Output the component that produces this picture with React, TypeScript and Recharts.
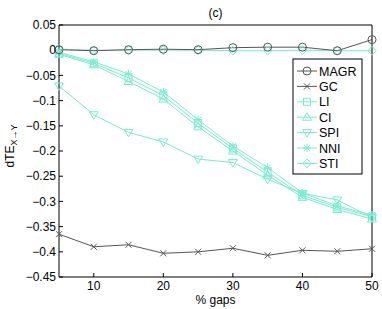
import React from 'react';
import { LineChart, Line, XAxis, YAxis } from 'recharts';

const gaps = [5, 10, 15, 20, 25, 30, 35, 40, 45, 50];
const magr = [0.001, -0.001, 0.001, 0.002, 0.001, 0.005, 0.006, 0.006, -0.001, 0.021];
const gc = [-0.365, -0.39, -0.386, -0.403, -0.4, -0.393, -0.407, -0.397, -0.399, -0.394];
const li = [-0.006, -0.026, -0.055, -0.09, -0.145, -0.195, -0.242, -0.288, -0.312, -0.33];
const ci = [-0.008, -0.029, -0.062, -0.097, -0.152, -0.2, -0.248, -0.292, -0.316, -0.335];
const spi = [-0.071, -0.128, -0.163, -0.182, -0.216, -0.223, -0.256, -0.284, -0.297, -0.332];
const nni = [-0.004, -0.023, -0.047, -0.083, -0.138, -0.19, -0.233, -0.283, -0.309, -0.327];
const sti = [0.002, 0.0, 0.0, 0.0, 0.0, -0.001, -0.001, 0.0, -0.001, -0.001];

const xTicks = [10, 20, 30, 40, 50];
const yTicks = [-0.45, -0.4, -0.35, -0.3, -0.25, -0.2, -0.15, -0.1, -0.05, 0, 0.05];

const data = gaps.map((g, i) => ({
  gap: g,
  MAGR: magr[i],
  GC: gc[i],
  LI: li[i],
  CI: ci[i],
  SPI: spi[i],
  NNI: nni[i],
  STI: sti[i],
}));

const CYAN = '#74efcf';
const DARK = '#555555';
const FONT = '"Liberation Sans", Arial, Helvetica, sans-serif';

type Shape = 'circle' | 'x' | 'square' | 'triUp' | 'triDown' | 'star' | 'diamond';

const series: { key: string; shape: Shape; color: string }[] = [
  { key: 'MAGR', shape: 'circle', color: DARK },
  { key: 'GC', shape: 'x', color: DARK },
  { key: 'LI', shape: 'square', color: CYAN },
  { key: 'CI', shape: 'triUp', color: CYAN },
  { key: 'SPI', shape: 'triDown', color: CYAN },
  { key: 'NNI', shape: 'star', color: CYAN },
  { key: 'STI', shape: 'diamond', color: CYAN },
];

function Marker({ shape, cx, cy, color }: { shape: Shape; cx: number; cy: number; color: string }) {
  const common = { fill: 'none', stroke: color, strokeWidth: 1 };
  switch (shape) {
    case 'circle':
      return <circle cx={cx} cy={cy} r={4} {...common} />;
    case 'x':
      return (
        <g {...common}>
          <line x1={cx - 3} y1={cy - 3} x2={cx + 3} y2={cy + 3} />
          <line x1={cx - 3} y1={cy + 3} x2={cx + 3} y2={cy - 3} />
        </g>
      );
    case 'square':
      return <rect x={cx - 3.5} y={cy - 3.5} width={7} height={7} {...common} />;
    case 'triUp':
      return <polygon points={`${cx},${cy - 4.5} ${cx - 4.5},${cy + 3} ${cx + 4.5},${cy + 3}`} {...common} />;
    case 'triDown':
      return <polygon points={`${cx},${cy + 4.5} ${cx - 4.5},${cy - 3} ${cx + 4.5},${cy - 3}`} {...common} />;
    case 'star':
      return (
        <g {...common}>
          <line x1={cx - 4} y1={cy} x2={cx + 4} y2={cy} />
          <line x1={cx} y1={cy - 4} x2={cx} y2={cy + 4} />
          <line x1={cx - 3} y1={cy - 3} x2={cx + 3} y2={cy + 3} />
          <line x1={cx - 3} y1={cy + 3} x2={cx + 3} y2={cy - 3} />
        </g>
      );
    case 'diamond':
      return <polygon points={`${cx},${cy - 4.5} ${cx + 4},${cy} ${cx},${cy + 4.5} ${cx - 4},${cy}`} {...common} />;
  }
  return null;
}

const fmt = (v: number) => {
  const s = parseFloat(v.toFixed(2)).toString();
  return s.replace('-', '\u2212');
};

function Decorations() {
  const lx = 293;
  const ly = 59;
  return (
    <g fontFamily={FONT}>
      <text x={215.5} y={17} textAnchor="middle" fontSize={12} fill="#000">(c)</text>
      <text x={215.5} y={304} textAnchor="middle" fontSize={12} fill="#000">% gaps</text>
      <text transform="translate(14,146) rotate(-90)" textAnchor="middle" fontSize={12} fill="#000">
        dTE<tspan fontSize={9} dy={3}>{'X\u2192Y'}</tspan>
      </text>
      <rect x={lx} y={ly} width={69} height={115} fill="#fff" stroke="#000" strokeWidth={1} />
      {series.map((s, i) => {
        const y = ly + 12 + i * 15.4;
        return (
          <g key={s.key}>
            <line x1={lx + 4} y1={y} x2={lx + 24} y2={y} stroke={s.color} strokeWidth={1} />
            <Marker shape={s.shape} cx={lx + 14} cy={y} color={s.color} />
            <text x={lx + 26} y={y} dy="0.36em" fontSize={12.5} fill="#000">{s.key}</text>
          </g>
        );
      })}
    </g>
  );
}

const drawOrder = ['STI', 'NNI', 'SPI', 'CI', 'LI', 'GC', 'MAGR'];

export default function App() {
  const tickStyle = { fontFamily: FONT, fontSize: 12, fill: '#000' };
  return (
    <div style={{ position: 'absolute', left: 0, top: 0, width: 382, height: 309, background: '#fff' }}>
      <LineChart width={382} height={309} data={data} margin={{ top: 24, right: 9, left: 0, bottom: 0 }}>
        <XAxis
          dataKey="gap"
          type="number"
          domain={[5, 50]}
          ticks={xTicks}
          interval={0}
          height={32}
          tickSize={-4}
          tickMargin={8}
          tick={tickStyle}
          stroke="#000"
          axisLine={{ stroke: '#000' }}
          tickLine={{ stroke: '#000' }}
        />
        <XAxis
          xAxisId="top"
          orientation="top"
          type="number"
          domain={[5, 50]}
          ticks={xTicks}
          interval={0}
          height={1}
          tickSize={-4}
          tickFormatter={() => ''}
          axisLine={{ stroke: '#000' }}
          tickLine={{ stroke: '#000' }}
        />
        <YAxis
          type="number"
          domain={[-0.45, 0.05]}
          ticks={yTicks}
          interval={0}
          width={59}
          tickSize={-4}
          tickMargin={7}
          tickFormatter={fmt}
          tick={tickStyle}
          axisLine={{ stroke: '#000' }}
          tickLine={{ stroke: '#000' }}
        />
        <YAxis
          yAxisId="right"
          orientation="right"
          type="number"
          domain={[-0.45, 0.05]}
          ticks={yTicks}
          interval={0}
          width={1}
          tickSize={-4}
          tickFormatter={() => ''}
          axisLine={{ stroke: '#000' }}
          tickLine={{ stroke: '#000' }}
        />
        {drawOrder.map((k) => {
          const s = series.find((x) => x.key === k)!;
          return (
            <Line
              key={k}
              dataKey={k}
              stroke={s.color}
              strokeWidth={1}
              isAnimationActive={false}
              activeDot={false}
              dot={(p: any) => (
                <Marker key={`${k}-${p.index}`} shape={s.shape} cx={p.cx} cy={p.cy} color={s.color} />
              )}
            />
          );
        })}
        <Decorations />
      </LineChart>
    </div>
  );
}
